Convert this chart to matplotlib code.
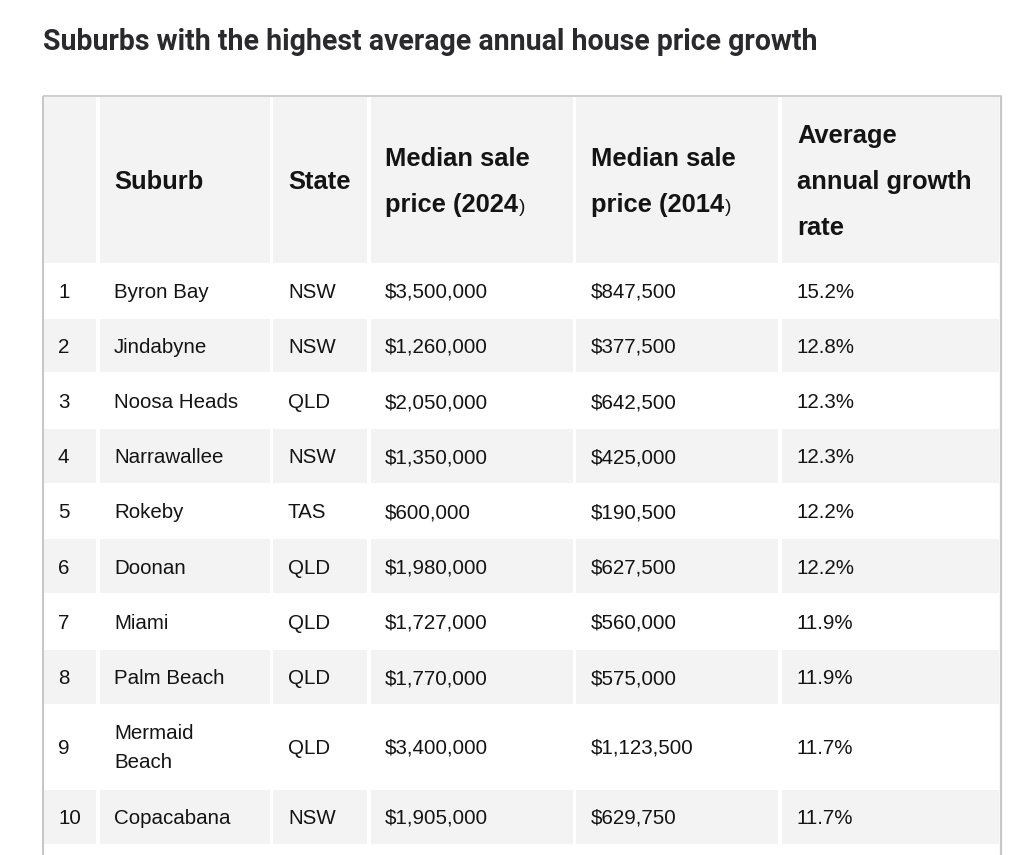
import matplotlib
matplotlib.use("Agg")
import matplotlib.pyplot as plt
from matplotlib.patches import Rectangle

# ---------------- data ----------------
title = "Suburbs with the highest average annual house price growth"
ranks = [1, 2, 3, 4, 5, 6, 7, 8, 9, 10]
suburbs = ["Byron Bay", "Jindabyne", "Noosa Heads", "Narrawallee", "Rokeby",
           "Doonan", "Miami", "Palm Beach", "Mermaid\nBeach", "Copacabana"]
states = ["NSW", "NSW", "QLD", "NSW", "TAS", "QLD", "QLD", "QLD", "QLD", "NSW"]
price_2024 = [3500000, 1260000, 2050000, 1350000, 600000,
              1980000, 1727000, 1770000, 3400000, 1905000]
price_2014 = [847500, 377500, 642500, 425000, 190500,
              627500, 560000, 575000, 1123500, 629750]
growth = [15.2, 12.8, 12.3, 12.3, 12.2, 12.2, 11.9, 11.9, 11.7, 11.7]
headers = ["", "Suburb", "State", "Median sale\nprice (2024)",
           "Median sale\nprice (2014)", "Average\nannual growth\nrate"]

# ---------------- layout (pixels) ----------------
W, H = 1024, 855
fig = plt.figure(figsize=(W / 100, H / 100), dpi=100)
ax = fig.add_axes([0, 0, 1, 1])
ax.set_xlim(0, W)
ax.set_ylim(H, 0)
ax.axis("off")

def pt(px):
    return px * 72 / 100

GREY = "#f3f3f3"
BORDER = "#c6c6c6"
TXT = "#141414"
FONT = "Liberation Sans"

col_spans = [(44, 96), (99.7, 270), (273.3, 367.3), (370.7, 572.7),
             (576, 778.3), (781.7, 999)]
text_x = [58, 114, 288, 385, 591, 797]

header_top, header_bot = 97, 262.7
row_heights = [55.2] * 8 + [84.6, 55.2]
bounds = [header_bot]
for h in row_heights:
    bounds.append(bounds[-1] + h)

# title
renderer = fig.canvas.get_renderer()
t = ax.text(43, 50, title, fontsize=pt(25), fontweight="bold", family="Roboto",
            color="#2a2a2d", va="baseline", ha="left")
bb = t.get_window_extent(renderer=renderer)
t.set_fontsize(pt(25) * 775 / bb.width)

# header cells
for (x0, x1) in col_spans:
    ax.add_patch(Rectangle((x0, header_top), x1 - x0, header_bot - header_top,
                           facecolor=GREY, edgecolor="none"))
# grey rows
for i in range(len(row_heights)):
    if i % 2 == 1:
        y0, y1 = bounds[i] + 0.6, bounds[i + 1] - 0.6
        for (x0, x1) in col_spans:
            ax.add_patch(Rectangle((x0, y0), x1 - x0, y1 - y0,
                                   facecolor=GREY, edgecolor="none"))

# borders
ax.plot([43, 1002], [96.5, 96.5], color=BORDER, lw=1.2, solid_capstyle="butt")
ax.plot([43.3, 43.3], [96, H], color=BORDER, lw=1.4, solid_capstyle="butt")
ax.plot([1001, 1001], [96, H], color=BORDER, lw=1.6, solid_capstyle="butt")

# header text
HFS = pt(25.5)
hc = (header_top + header_bot) / 2
line_gap = 46
for ci, htxt in enumerate(headers):
    if not htxt:
        continue
    lines = htxt.split("\n")
    n = len(lines)
    for li, line in enumerate(lines):
        ymid = hc + (li - (n - 1) / 2) * line_gap
        yb = ymid + 0.716 * 25.5 / 2
        if line.endswith(")"):
            tt = ax.text(text_x[ci], yb, line[:-1], fontsize=HFS, fontweight="bold",
                         family=FONT, color=TXT, va="baseline", ha="left")
            e = tt.get_window_extent(renderer=renderer)
            ax.text(text_x[ci] + e.width + 1, yb, ")", fontsize=pt(19),
                    family=FONT, color=TXT, va="baseline", ha="left")
        else:
            ax.text(text_x[ci], yb, line, fontsize=HFS, fontweight="bold",
                    family=FONT, color=TXT, va="baseline", ha="left")

# body text
BFS_PX = 20.5
BFS = pt(BFS_PX)
for i in range(len(ranks)):
    yc = (bounds[i] + bounds[i + 1]) / 2
    cells = [str(ranks[i]), suburbs[i], states[i], f"${price_2024[i]:,}",
             f"${price_2014[i]:,}", f"{growth[i]:.1f}%"]
    for ci, c in enumerate(cells):
        lines = c.split("\n")
        n = len(lines)
        for li, line in enumerate(lines):
            ymid = yc + (li - (n - 1) / 2) * 29
            yb = ymid + 0.716 * BFS_PX / 2
            ax.text(text_x[ci], yb, line, fontsize=BFS, family=FONT,
                    color=TXT, va="baseline", ha="left")

fig.savefig("out.png", dpi=100, facecolor="white")
